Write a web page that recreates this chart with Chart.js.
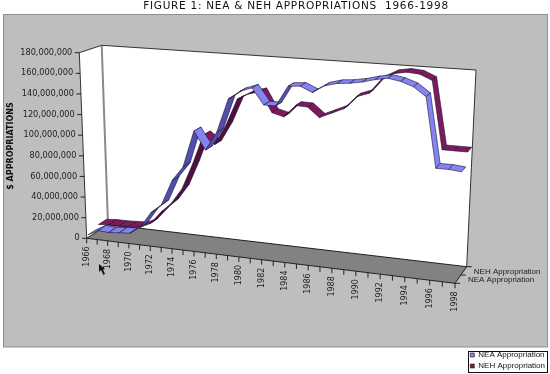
<!DOCTYPE html>
<html><head><meta charset="utf-8">
<style>html,body{margin:0;padding:0;background:#fff}#w{width:550px;height:374px}</style>
<script src="https://cdn.jsdelivr.net/npm/chart.js@4"></script></head>
<body><div id="w"><canvas id="c" width="550" height="374"></canvas></div>
<script>
const years=['1966','1967','1968','1969','1970','1971','1972','1973','1974','1975','1976','1977','1978','1979','1980','1981','1982','1983','1984','1985','1986','1987','1988','1989','1990','1991','1992','1993','1994','1995','1996','1997','1998'];
const neaValues=[2500000,8000000,7200000,8300000,9000000,16000000,31000000,40000000,64000000,78000000,113000000,96000000,114000000,146000000,154000000,158000000,143000000,143000000,162000000,163000000,158000000,165000000,168000000,169000000,171000000,174000000,176000000,174000000,170000000,162000000,99000000,99000000,98000000];
const nehValues=[6000000,7000000,7000000,7500000,8000000,13000000,25000000,35000000,50000000,75000000,104000000,96000000,115000000,141000000,147000000,150000000,131000000,128000000,139500000,139000000,130000000,135000000,140000000,152000000,156000000,170000000,176000000,178000000,177000000,172000000,110000000,110000000,110000000];
const yTickStep=20000000, yMax=180000000;
const titleText='FIGURE 1: NEA & NEH APPROPRIATIONS  1966-1998';
const yTitle='$ APPROPRIATIONS';

/* view box of the 3-D plot: corners of the floor and of the top */
const F0=[86.7,238.3],F1=[455,283.3],B0=[108,224.5],B1=[466.7,266.7];
const T0=[79.3,52.7],T1=[466,80],S0=[101.7,45.3],S1=[476,70];
const lerp=(a,b,t)=>[a[0]+(b[0]-a[0])*t,a[1]+(b[1]-a[1])*t];
const persp=u=>u/(u+1.105*(1-u));
function project(u,v,w){
  const p=persp(u);
  const lowF=lerp(F0,F1,p),lowB=lerp(B0,B1,p),topF=lerp(T0,T1,p),topB=lerp(S0,S1,p);
  return lerp(lerp(lowF,lowB,w),lerp(topF,topB,w),v);
}
function poly(ctx,pts){ctx.beginPath();pts.forEach((p,i)=>i?ctx.lineTo(p[0],p[1]):ctx.moveTo(p[0],p[1]));ctx.closePath();}

class RibbonController extends Chart.LineController{
  draw(){
    const meta=this._cachedMeta,xs=meta.xScale,ys=meta.yScale,ctx=this.chart.ctx;
    const ds=this.getDataset();
    const W=ds.depth,H=0.19;
    const pt=(i,w)=>project((xs.getPixelForValue(i)-xs.left)/xs.width,(ys.bottom-ys.getPixelForValue(ds.data[i]))/ys.height,w);
    ctx.save();
    ctx.lineWidth=0.6;ctx.lineJoin='round';ctx.strokeStyle='#1c1030';
    for(let i=0;i<ds.data.length-1;i++){
      const a=pt(i,W-H),b=pt(i+1,W-H),c=pt(i+1,W+H),d=pt(i,W+H);
      const ex=b[0]-a[0],ey=b[1]-a[1],fx=d[0]-a[0],fy=d[1]-a[1];
      ctx.fillStyle=(ex*fy-ey*fx)<0?ds.backgroundColor:ds.underColor;
      poly(ctx,[a,b,c,d]);ctx.fill();ctx.stroke();
    }
    ctx.restore();
  }
}
RibbonController.id='ribbon';
RibbonController.defaults=Chart.LineController.defaults;
RibbonController.overrides=Chart.LineController.overrides;
Chart.register(RibbonController);

const box3d={id:'box3d',
  beforeDraw(chart){
    const ctx=chart.ctx,xs=chart.scales.x,ys=chart.scales.y;
    /* the reference title is set wide */
    const tb=chart.titleBlock;
    if(tb&&!tb._wide){const o=tb.draw.bind(tb);tb.draw=function(){ctx.save();ctx.letterSpacing='0.73px';o();ctx.restore();};tb._wide=true;}
    ctx.save();
    ctx.fillStyle='#bebebe';ctx.fillRect(3,14,544.5,333);
    ctx.strokeStyle='#8f8f8f';ctx.lineWidth=1;ctx.strokeRect(3.5,14.5,544,332.5);
    /* walls */
    ctx.fillStyle='#fff';
    poly(ctx,[T0,S0,B0,F0]);ctx.fill();
    poly(ctx,[S0,S1,B1,B0]);ctx.fill();
    ctx.strokeStyle='#8a8a8a';ctx.lineWidth=2;
    poly(ctx,[S0,B0]);ctx.stroke();
    ctx.strokeStyle='#333';ctx.lineWidth=1;
    ctx.beginPath();ctx.moveTo(F0[0],F0[1]);ctx.lineTo(T0[0],T0[1]);ctx.lineTo(S0[0],S0[1]);ctx.lineTo(S1[0],S1[1]);ctx.lineTo(B1[0],B1[1]);ctx.stroke();
    /* floor */
    ctx.fillStyle='#828282';ctx.strokeStyle='#222';
    poly(ctx,[F0,F1,B1,B0]);ctx.fill();ctx.stroke();
    /* value axis */
    ctx.fillStyle='#222';ctx.font='8.2px "DejaVu Sans"';ctx.textAlign='right';ctx.textBaseline='middle';
    ys.ticks.forEach(t=>{
      const p=project(0,(ys.bottom-ys.getPixelForValue(t.value))/ys.height,0);
      ctx.beginPath();ctx.moveTo(p[0]-4.5,p[1]);ctx.lineTo(p[0],p[1]);ctx.stroke();
      ctx.fillText(t.label,p[0]-7,p[1]);
    });
    /* year axis */
    ctx.font='8px "DejaVu Sans"';
    xs.ticks.forEach((t,i)=>{
      const p=project((xs.getPixelForTick(i)-xs.left)/xs.width,0,0);
      ctx.beginPath();ctx.moveTo(p[0],p[1]);ctx.lineTo(p[0],p[1]+5);ctx.stroke();
      if(t.label){ctx.save();ctx.translate(p[0],p[1]+8);ctx.rotate(-Math.PI/2);ctx.textAlign='right';ctx.fillText(t.label,0,0);ctx.restore();}
    });
    /* depth axis */
    [0,0.5,1].forEach(w=>{const p=project(1,0,w);ctx.beginPath();ctx.moveTo(p[0],p[1]);ctx.lineTo(p[0]+5,p[1]);ctx.stroke();});
    ctx.font='8px "Liberation Sans"';ctx.textAlign='left';
    chart.data.datasets.forEach(d=>{const p=project(1,0,d.depth);ctx.fillText(d.label,p[0]+10,p[1]+1);});
    /* axis title */
    ctx.save();ctx.translate(11,146);ctx.rotate(-Math.PI/2);ctx.textAlign='center';ctx.font='bold 8px "DejaVu Sans"';ctx.fillStyle='#111';ctx.fillText(yTitle,0,0);ctx.restore();
    /* pointer */
    ctx.fillStyle='#111';
    poly(ctx,[[99,264],[99,272],[101,270],[103.5,275],[105,274],[103,269.5],[105,269]]);ctx.fill();
    ctx.restore();
  },
  afterDraw(chart){
    const ctx=chart.ctx;
    const left=468,top=351,right=547,bottom=372;
    ctx.save();ctx.strokeStyle='#111';ctx.lineWidth=1;
    ctx.strokeRect(left+.5,top+.5,right-left,bottom-top);
    ctx.restore();
  }
};

new Chart(document.getElementById('c'),{
  type:'ribbon',
  data:{labels:years,datasets:[
    {label:'NEA Appropriation',data:neaValues,depth:0.25,backgroundColor:'#8484f0',underColor:'#5050a8',borderColor:'#111',borderWidth:0.6,clip:false,pointRadius:0},
    {label:'NEH Appropriation',data:nehValues,depth:0.75,backgroundColor:'#7c1a5e',underColor:'#4f1040',borderColor:'#111',borderWidth:0.6,clip:false,pointRadius:0}
  ]},
  plugins:[box3d],
  options:{responsive:false,animation:false,
    layout:{padding:{left:37,right:-5,bottom:1,top:0}},
    plugins:{
      title:{display:true,text:titleText,padding:{top:0,bottom:2},font:{family:'"DejaVu Sans"',size:10.5,weight:'normal'},color:'#111'},
      legend:{position:'right',align:'end',labels:{boxWidth:4,boxHeight:4,padding:3,color:'#111',font:{family:'"Liberation Sans"',size:8}}},
      tooltip:{enabled:false}
    },
    scales:{
      x:{type:'category',display:false,offset:false,ticks:{autoSkip:false,callback(v,i){return i%2?'':years[i];}}},
      y:{type:'linear',display:false,min:0,max:yMax,ticks:{stepSize:yTickStep,callback:v=>v.toLocaleString('en-US')}}
    }
  }
});
</script></body></html>
